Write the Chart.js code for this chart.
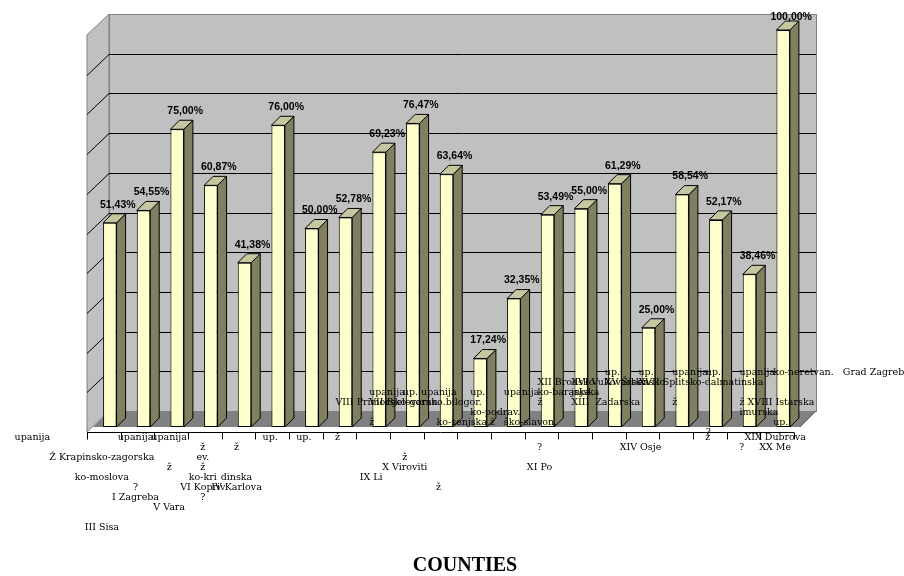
<!DOCTYPE html>
<html>
<head>
<meta charset="utf-8">
<script src="https://cdn.jsdelivr.net/npm/chart.js@4.4.1/dist/chart.umd.min.js"></script>
<style>
  html, body { margin: 0; padding: 0; background: #fff; }
</style>
</head>
<body>
<canvas id="myChart" width="904" height="576"></canvas>
<script>
const counties = [
  "I Zagrebačka", "II Krapinsko-zagorska", "III Sisačko-moslavačka", "IV Karlovačka",
  "V Varaždinska", "VI Koprivničko-križevačka", "VII Bjelovarsko-bilogorska",
  "VIII Primorsko-goranska", "IX Ličko-senjska", "X Virovitičko-podravska",
  "XI Požeško-slavonska", "XII Brodsko-posavska", "XIII Zadarska", "XIV Osječko-baranjska",
  "XV Šibensko-kninska", "XVI Vukovarsko-srijemska", "XVII Splitsko-dalmatinska",
  "XVIII Istarska", "XIX Dubrovačko-neretvanska", "XX Međimurska", "Grad Zagreb",
];

const shares = [
  51.43, 54.55, 75.0, 60.87, 41.38, 76.0, 50.0, 52.78, 69.23, 76.47, 63.64,
  17.24, 32.35, 53.49, 55.0, 61.29, 25.0, 58.54, 52.17, 38.46, 100.0,
];

// broken label fragments under the axis, one list of lines per category
const lowerLabels = [
  ["upanija" + " ".repeat(46), "", "Ž Krapinsko-zagorska", "", "ko-moslova", "", "", "", "", "III Sisa"],
  ["upanija", "", "", "", "", "?", "I Zagreba"],
  ["upanija", "", "", "ž", "", "", "", "V Vara"],
  ["", "ž", "ev.", "ž", "ko-kri", "VI Kopriv", "?"],
  ["", "ž", "", "", "dinska", "IV Karlova"],
  ["up."],
  ["up."],
  ["ž"],
  ["", "", "", "", "IX Li"],
  ["", "", "ž", "X Viroviti"],
  ["", "", "", "", "", "ž"],
  [""],
  [""],
  ["", "?", "", "XI Po"],
  [""],
  [""],
  ["", "XIV Osje"],
  [""],
  ["ž"],
  ["", "?"],
  ["XIX Dubrova", "XX Me"],
];

// fragments that spill onto the floor of the plot
const floorLabels = [
  [""], [""], [""], [""], [""], [""], [""],
  ["", "", "", "VIII Primorsko-goran."],
  ["", "", "upanija", "VII Bjelovarsko.bilogor.", "", "ž"],
  ["", "", "up. upanija"],
  ["", "", "", "", "", "ko-senjska ž"],
  ["", "", "up.", "", "ko-podrav."],
  ["", "", "upanija", "", "", "ško-slavon."],
  ["", "XII Brodsko", "ko-baranjska", "ž"],
  ["", "XVI Vukovarsko", "jska", "XIII  Zadarska"],
  ["up.", "XV Šibensko"],
  ["up.", "XVII Splitsko-dalmatinska"],
  ["upanija", "", "", "ž"],
  ["up.", "", "", "", "", "", "?"],
  ["upanija", "", "", "ž XVIII Istarska", "imurska"],
  ["ko-neretvan.   Grad Zagreb", "", "", "", "", "up."],
];

const labelFont = { family: "DejaVu Serif", size: 9.5, lineHeight: "10px" };

const excel3d = {
  id: "excel3d",
  beforeDatasetsDraw(chart) {
    const { ctx, chartArea: a } = chart;
    const y = chart.scales.y;
    const wx = 16, wy = -16;
    const fx = -6, fy = 5;
    const top = y.getPixelForValue(100);
    ctx.save();

    // back wall + left wall
    ctx.fillStyle = "#C0C0C0";
    ctx.strokeStyle = "#808080";
    ctx.lineWidth = 1;
    ctx.fillRect(a.left + wx, top + wy, a.width, a.height);
    ctx.strokeRect(a.left + wx + 0.5, top + wy + 0.5, a.width, a.height);
    ctx.beginPath();
    ctx.moveTo(a.left + fx, top + fy);
    ctx.lineTo(a.left + wx, top + wy);
    ctx.lineTo(a.left + wx, a.bottom + wy);
    ctx.lineTo(a.left + fx, a.bottom + fy);
    ctx.closePath();
    ctx.fill();
    ctx.stroke();

    ctx.strokeStyle = "#000";
    y.ticks.forEach((t) => {
      if (t.value <= 0 || t.value >= 100) return;
      const py = Math.round(y.getPixelForValue(t.value)) + 0.5;
      ctx.beginPath();
      ctx.moveTo(a.left + fx, py + fy);
      ctx.lineTo(a.left + wx, py + wy);
      ctx.lineTo(a.right + wx, py + wy);
      ctx.stroke();
    });

    // floor
    ctx.fillStyle = "#808080";
    ctx.beginPath();
    ctx.moveTo(a.left, a.bottom);
    ctx.lineTo(a.right, a.bottom);
    ctx.lineTo(a.right + wx, a.bottom + wy);
    ctx.lineTo(a.left + wx, a.bottom + wy);
    ctx.closePath();
    ctx.fill();
    ctx.strokeStyle = "#606060";
    ctx.beginPath();
    ctx.moveTo(a.right, a.bottom);
    ctx.lineTo(a.right + wx, a.bottom + wy);
    ctx.stroke();

    // category axis on the front edge
    const n = counties.length;
    const step = a.width / n;
    const ay = a.bottom + fy + 0.5;
    ctx.strokeStyle = "#000";
    ctx.beginPath();
    ctx.moveTo(a.left + fx, ay);
    ctx.lineTo(a.right + fx, ay);
    for (let i = 0; i <= n; i++) {
      const tx = Math.round(a.left + fx + i * step) + 0.5;
      ctx.moveTo(tx, ay);
      ctx.lineTo(tx, ay + 7);
    }
    ctx.stroke();

    // side and top faces of the bars
    const d = 9;
    chart.getDatasetMeta(0).data.forEach((bar) => {
      const { x, y: by, base, width } = bar.getProps(["x", "y", "base", "width"], true);
      const l = x - width / 2;
      const r = x + width / 2;
      ctx.strokeStyle = "#000";
      ctx.fillStyle = "#808060";
      ctx.beginPath();
      ctx.moveTo(r, by);
      ctx.lineTo(r + d, by - d);
      ctx.lineTo(r + d, base - d);
      ctx.lineTo(r, base);
      ctx.closePath();
      ctx.fill();
      ctx.stroke();
      ctx.fillStyle = "#C6C6A0";
      ctx.beginPath();
      ctx.moveTo(l, by);
      ctx.lineTo(l + d, by - d);
      ctx.lineTo(r + d, by - d);
      ctx.lineTo(r, by);
      ctx.closePath();
      ctx.fill();
      ctx.stroke();
    });
    ctx.restore();
  },
  afterDatasetsDraw(chart) {
    const { ctx, chartArea: a } = chart;
    ctx.save();
    ctx.font = "bold 10.5px 'Liberation Sans', Arial, sans-serif";
    ctx.fillStyle = "#000";
    ctx.textAlign = "center";
    ctx.textBaseline = "middle";
    chart.getDatasetMeta(0).data.forEach((bar, i) => {
      const text = shares[i].toFixed(2).replace(".", ",") + "%";
      ctx.fillText(text, bar.x + 8, Math.max(bar.y - 18, a.top - 13));
    });
    ctx.restore();
  },
};

const ctx = document.getElementById("myChart").getContext("2d");

const myChart = new Chart(ctx, {
  type: "bar",
  data: {
    labels: counties,
    datasets: [
      {
        data: shares,
        backgroundColor: "#FFFFCC",
        borderColor: "#000",
        borderWidth: 1,
        borderSkipped: false,
        barPercentage: 0.4,
        categoryPercentage: 1,
      },
    ],
  },
  options: {
    responsive: false,
    animation: false,
    layout: { padding: { left: 26, right: 0, top: 30, bottom: 0 } },
    plugins: {
      legend: { display: false },
      tooltip: { enabled: false },
      title: {
        display: true,
        text: "COUNTIES",
        position: "bottom",
        color: "#000",
        padding: 0,
        font: { family: "Liberation Serif", size: 20, weight: "bold", lineHeight: 1 },
      },
    },
    scales: {
      x: {
        grid: { display: false, drawTicks: false },
        border: { display: false },
        ticks: {
          autoSkip: false,
          maxRotation: 0,
          minRotation: 0,
          padding: 6,
          labelOffset: -8,
          color: "#000",
          font: labelFont,
          callback: (v, i) => lowerLabels[i],
        },
        afterFit: (s) => {
          s.height = 129;
          s.paddingLeft = 0;
          s.paddingRight = 0;
        },
      },
      x2: {
        type: "category",
        axis: "x",
        labels: counties,
        position: { y: 14.86 },
        grid: { display: false, drawTicks: false },
        border: { display: false },
        ticks: {
          z: 1,
          autoSkip: false,
          maxRotation: 0,
          minRotation: 0,
          padding: 0,
          align: "start",
          labelOffset: -10,
          color: "#000",
          font: labelFont,
          callback: (v, i) => floorLabels[i],
        },
        afterFit: (s) => {
          s.paddingLeft = 0;
          s.paddingRight = 0;
        },
      },
      y: {
        min: 0,
        max: 100,
        grid: { display: false },
        border: { display: false },
        ticks: { display: false, stepSize: 10 },
        afterFit: (s) => {
          s.width = 67;
        },
      },
      y2: {
        type: "linear",
        position: "right",
        grid: { display: false },
        border: { display: false },
        ticks: { display: false },
        afterFit: (s) => {
          s.width = 104;
        },
      },
    },
  },
  plugins: [excel3d],
});
</script>
</body>
</html>
